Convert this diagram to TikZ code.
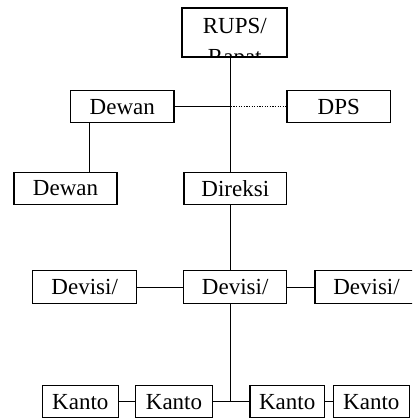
\documentclass[tikz,border=0pt]{standalone}
\usepackage{fontspec}
\setmainfont{Liberation Serif}
\begin{document}
\begin{tikzpicture}[x=1pt,y=-1pt,
  box/.style={draw,line width=1.3pt,inner sep=0pt,minimum height=32pt,font=\fontsize{23}{26}\selectfont},
  lbl/.style={inner sep=0pt,anchor=base,font=\fontsize{23}{26}\selectfont},
  conn/.style={line width=1.3pt},
  dotconn/.style={line width=1.2pt,dash pattern=on 1.3pt off 1.3pt}]
\clip (0,0) rectangle (412,419);
\fill[white] (0,0) rectangle (412,419);
% trunk and branch x positions
\coordinate (t) at (230.7,0);
\coordinate (d) at (89.3,0);
% nodes
\node[box,minimum width=104.3pt,minimum height=48.7pt] (rups) at (234.8,32.7) {};
\begin{scope}
  \clip ([shift={(0.6pt,0.6pt)}]rups.south west) rectangle ([shift={(-0.6pt,-0.6pt)}]rups.north east);
  \node[lbl] (rupsa) at (234.8,34) {RUPS/};
  \node[lbl] (rupsb) at (234.8,65) {Rapat};
\end{scope}
\draw[line width=1.3pt] (rups.south west) rectangle (rups.north east);
\node[box,minimum width=103.3pt] (dewan1) at (122.3,106.8) {Dewan};
\node[box,minimum width=103.7pt] (dps) at (338.8,106.8) {DPS};
\node[box,minimum width=103pt] (dewan2) at (65.5,188.2) {Dewan};
\node[box,minimum width=102.7pt] (direksi) at (235.3,188.2) {Direksi};
\node[box,minimum width=104pt,minimum height=33pt] (dev1) at (84.7,287.3) {Devisi/};
\node[box,minimum width=103pt,minimum height=33pt] (dev2) at (235.2,287.3) {Devisi/};
\node[box,minimum width=103pt,minimum height=33pt] (dev3) at (366.5,287.3) {Devisi/};
\node[box,minimum width=76pt] (k1) at (80.3,401.7) {Kanto};
\node[box,minimum width=76.6pt] (k2) at (174,401.7) {Kanto};
\node[box,minimum width=74.3pt] (k3) at (287.2,401.7) {Kanto};
\node[box,minimum width=76pt] (k4) at (371.3,401.7) {Kanto};
% connectors
\draw[conn] (rups.south -| t) -- (direksi.north -| t);
\draw[conn] (dewan1.east) -- (t |- dewan1.east);
\draw[dotconn] (t |- dps.west) -- (dps.west);
\draw[conn] (dewan1.south -| d) -- (dewan2.north -| d);
\draw[conn] (direksi.south -| t) -- (dev2.north -| t);
\draw[conn] (dev1.east) -- (dev2.west);
\draw[conn] (dev2.east) -- (dev3.west);
\draw[conn] (dev2.south -| t) -- (t |- k2.east);
\draw[conn] (k2.east) -- (k3.west);
\draw[conn] (k1.east) -- (k2.west);
\draw[conn] (k3.east) -- (k4.west);
\end{tikzpicture}
\end{document}
